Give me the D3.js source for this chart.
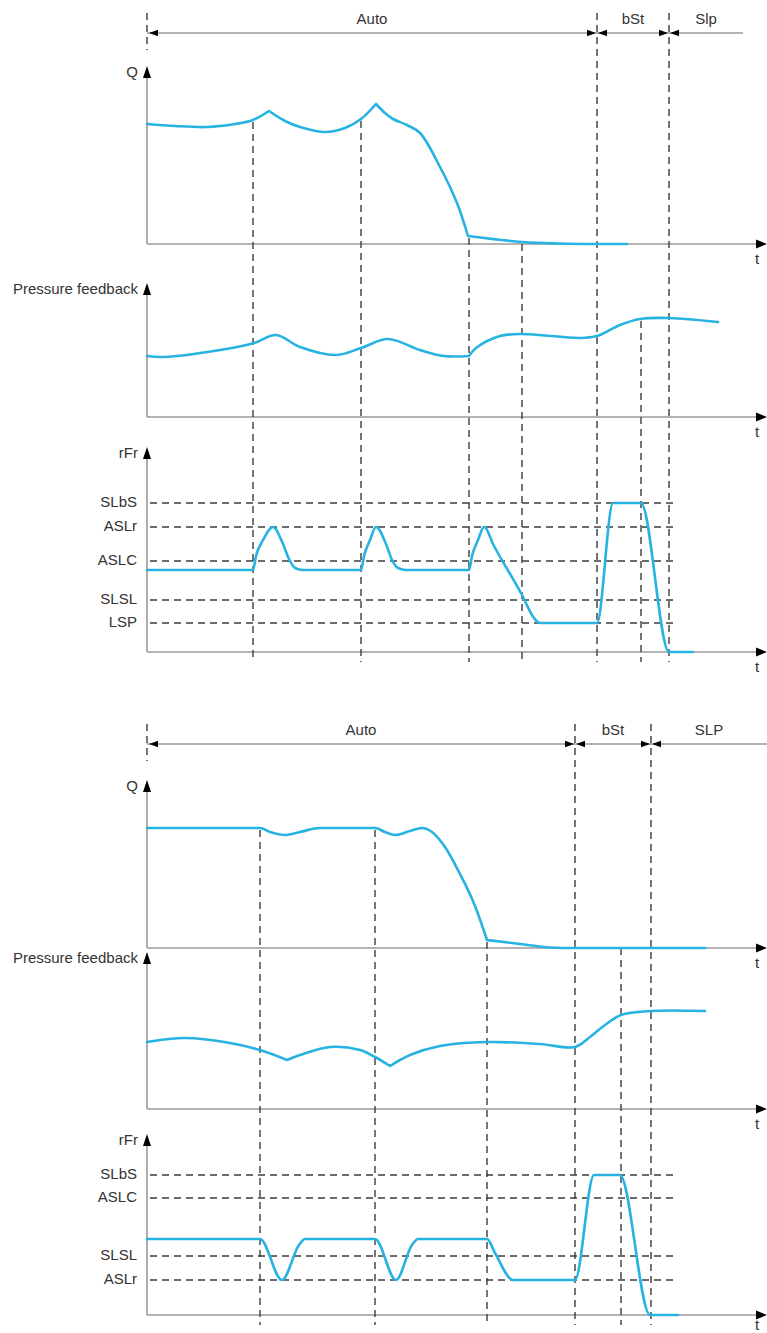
<!DOCTYPE html>
<html><head><meta charset="utf-8">
<script src="https://cdn.jsdelivr.net/npm/d3@7"></script>
<style>
body{margin:0;background:#fff}
svg{display:block}
text{font-family:"Liberation Sans",Arial,Helvetica,sans-serif;font-size:15px;fill:#333}
</style></head><body>
<svg id="c" width="767" height="1333"></svg>
<script>
// ---------------- DATA (time units t, value units per panel) ----------------
// Top diagram
const topPhaseNames = ["Auto", "bSt", "Slp"];
const topPhaseBounds = [0, 450, 522, 596];
const topEvents = [106, 214, 322, 375, 450, 494, 522];
const topEventStart = ["q", "q", "q", "qaxis", "row", "p", "row"];

const qTop = [[0,120],[28,118],[60,117],[88,120],[106,124],[122,133],
  [138,123],[153,117],[178,112],[198,116],[214,125],[229,140],
  [238,131],[246,125],[260,119],[273,111],[293,77],[310,41],[321,8],
  [375,2],[413,0.5],[450,0],[480,0]];
const qTopBreaks = [5, 11, 18];

const pTop = [[0,61],[17,60],[73,67],[107,74],[129,82],[153,70],[189,62],[214,69],
  [241,78],[273,67],[297,61],[322,61],[329,69],[353,81],[375,83],[433,79],[450,81],
  [473,92],[493,98],[522,99],[571,95]];
const pTopBreaks = [11];

const rTopLevelNames = ["SLbS", "ASLr", "ASLC", "SLSL", "LSP"];
const rTopLevelValues = [149, 125, 91, 52, 29];
const rTop = [[0,82],[106,82],[109,96],[116,112],[126,125],[136,108],[142,93],[148,84],[156,82],
  [214,82],[217,96],[223,112],[229,125],[239,108],[245,92],[251,84],[259,82],
  [322,82],[325,96],[331,112],[337,125],[347,106],[375,57],[387,34],[393,29],
  [450,29],[466,149],[494,149],[522,0],[546,0]];

// Bottom diagram
const botPhaseNames = ["Auto", "bSt", "SLP"];
const botPhaseBounds = [0, 428, 504, 620];
const botEvents = [113, 228, 340, 428, 474, 504];
const botEventStart = ["q", "q", "q", "row", "qaxis", "row"];

const qBot = [[0,120],[113,120],[123,116],[138,113],[153,116],[173,120],[228,120],
  [238,116],[248,113],[263,117],[275,120],[285,116],[298,101],[313,74],[328,42],[340,8],
  [373,4],[403,0.5],[428,0],[558,0]];
const qBotBreaks = [15];

const pBot = [[0,67],[38,71],[83,66],[113,59],[140,49],[153,54],[183,62],[213,59],
  [228,52],[243,43],[263,54],[293,63],[340,67],[393,65],[428,62],[443,72],[458,84],
  [474,94],[504,98],[558,98]];
const pBotBreaks = [4, 9];

const rBotLevelNames = ["SLbS", "ASLC", "SLSL", "ASLr"];
const rBotLevelValues = [140, 117, 59, 35];
const rBot = [[0,76],[113,76],[135,35],[152,70],[158,76],[228,76],[249,35],[265,70],[271,76],
  [340,76],[348,62],[366,35],[428,35],[447,140],[473,140],[503,0],[531,0]];

// ---------------- DRAWING ----------------
const svg = d3.select("#c");
const x = d3.scaleLinear().domain([0, 620]).range([147, 767]);
const CURVE = "#27b3e2";
const AXIS = "#9a9a9a";
const DASH = "#3c3c3c";

function interp(pts, t){
  for (let i = 0; i < pts.length - 1; i++){
    const a = pts[i], b = pts[i+1];
    if (t >= a[0] && t <= b[0]) return a[1] + (b[1]-a[1]) * (t - a[0]) / (b[0]-a[0] || 1);
  }
  return pts[pts.length-1][1];
}

function tri(xTip, yTip, dir, len, half){
  if (dir === "up") return `M${xTip},${yTip}L${xTip-half},${yTip+len}L${xTip+half},${yTip+len}Z`;
  const s = dir === "left" ? 1 : -1;
  return `M${xTip},${yTip}L${xTip+s*len},${yTip-half}L${xTip+s*len},${yTip+half}Z`;
}

function panel(name, axisY, topY, tOff){
  const y = d3.scaleLinear().domain([0, axisY - topY]).range([axisY, topY]);
  svg.append("line").attr("x1",147).attr("x2",147).attr("y1",axisY).attr("y2",topY+8)
    .attr("stroke",AXIS).attr("stroke-width",1.6);
  svg.append("line").attr("x1",147).attr("x2",759).attr("y1",axisY).attr("y2",axisY)
    .attr("stroke",AXIS).attr("stroke-width",1.6);
  svg.append("path").attr("d", tri(147, topY, "up", 12, 4)).attr("fill","#000");
  svg.append("path").attr("d", tri(767, axisY, "right", 11, 4.5)).attr("fill","#000");
  svg.append("text").attr("x",138).attr("y",topY+7).attr("text-anchor","end")
    .attr("dominant-baseline","middle").text(name);
  svg.append("text").attr("x",757).attr("y",axisY+(tOff||16)).attr("text-anchor","middle")
    .attr("dominant-baseline","middle").text("t");
  return y;
}

function levels(y, names, values, tEnd){
  names.forEach((n, i) => {
    const yy = y(values[i]);
    svg.append("line").attr("x1",150).attr("x2",x(tEnd)).attr("y1",yy).attr("y2",yy)
      .attr("stroke",DASH).attr("stroke-width",1.4).attr("stroke-dasharray","7,5");
    svg.append("text").attr("x",137).attr("y",yy).attr("text-anchor","end")
      .attr("dominant-baseline","middle").text(n);
  });
}

function curve(y, pts, breaks, kind){
  const gen = d3.line().x(d => x(d[0])).y(d => y(d[1])).curve(kind);
  const cuts = [0, ...breaks, pts.length - 1];
  let d = "";
  for (let i = 0; i < cuts.length - 1; i++){
    const seg = pts.slice(cuts[i], cuts[i+1] + 1);
    let s = gen(seg);
    if (i > 0) s = "L" + s.slice(1);
    d += s;
  }
  svg.append("path").attr("d", d).attr("fill","none").attr("stroke",CURVE)
    .attr("stroke-width",2.6).attr("stroke-linejoin","round").attr("stroke-linecap","round");
}

function row(rowY, names, bounds, lineEnd){
  svg.append("line").attr("x1",147).attr("x2",x(lineEnd)).attr("y1",rowY).attr("y2",rowY)
    .attr("stroke",AXIS).attr("stroke-width",1.6);
  svg.append("line").attr("x1",147).attr("x2",147).attr("y1",rowY-20).attr("y2",rowY+17)
    .attr("stroke",DASH).attr("stroke-width",1.4).attr("stroke-dasharray","7,5");
  svg.append("path").attr("d", tri(x(bounds[0])+2, rowY, "left", 9, 3.2)).attr("fill","#000");
  for (let i = 1; i < bounds.length - 1; i++){
    const bx = x(bounds[i]);
    svg.append("path").attr("d", tri(bx-1, rowY, "right", 9, 3.2)).attr("fill","#000");
    svg.append("path").attr("d", tri(bx+1, rowY, "left", 9, 3.2)).attr("fill","#000");
  }
  names.forEach((n, i) => {
    svg.append("text").attr("x", (x(bounds[i]) + x(bounds[i+1])) / 2).attr("y", rowY-13)
      .attr("text-anchor","middle").attr("dominant-baseline","middle").text(n);
  });
}

function events(evts, starts, rowY, qY, qPts, qAxis, pY, pPts, endY){
  evts.forEach((t, i) => {
    let y0;
    if (starts[i] === "row") y0 = rowY - 20;
    else if (starts[i] === "q") y0 = qY(interp(qPts, t)) + 2;
    else if (starts[i] === "qaxis") y0 = qAxis;
    else y0 = pY(interp(pPts, t)) + 2;
    svg.append("line").attr("x1", x(t)).attr("x2", x(t)).attr("y1", y0).attr("y2", endY)
      .attr("stroke",DASH).attr("stroke-width",1.4).attr("stroke-dasharray","7,5");
  });
}

// ---- top diagram ----
{
  const rowY = 33;
  const qY = panel("Q", 244, 66);
  const pY = panel("Pressure feedback", 417, 283);
  const rY = panel("rFr", 652, 447);
  events(topEvents, topEventStart, rowY, qY, qTop, 244, pY, pTop, 662);
  row(rowY, topPhaseNames, topPhaseBounds, 596);
  levels(rY, rTopLevelNames, rTopLevelValues, 530);
  curve(qY, qTop, qTopBreaks, d3.curveCatmullRom.alpha(0.5));
  curve(pY, pTop, pTopBreaks, d3.curveCatmullRom.alpha(0.5));
  curve(rY, rTop, [], d3.curveMonotoneX);
}
// ---- bottom diagram ----
{
  const rowY = 744;
  const qY = panel("Q", 948, 780);
  const pY = panel("Pressure feedback", 1109, 952);
  const rY = panel("rFr", 1315, 1134, 11);
  events(botEvents, botEventStart, rowY, qY, qBot, 948, pY, pBot, 1325);
  row(rowY, botPhaseNames, botPhaseBounds, 620);
  levels(rY, rBotLevelNames, rBotLevelValues, 531);
  curve(qY, qBot, qBotBreaks, d3.curveMonotoneX);
  curve(pY, pBot, pBotBreaks, d3.curveCatmullRom.alpha(0.5));
  curve(rY, rBot, [], d3.curveMonotoneX);
}
</script></body></html>
